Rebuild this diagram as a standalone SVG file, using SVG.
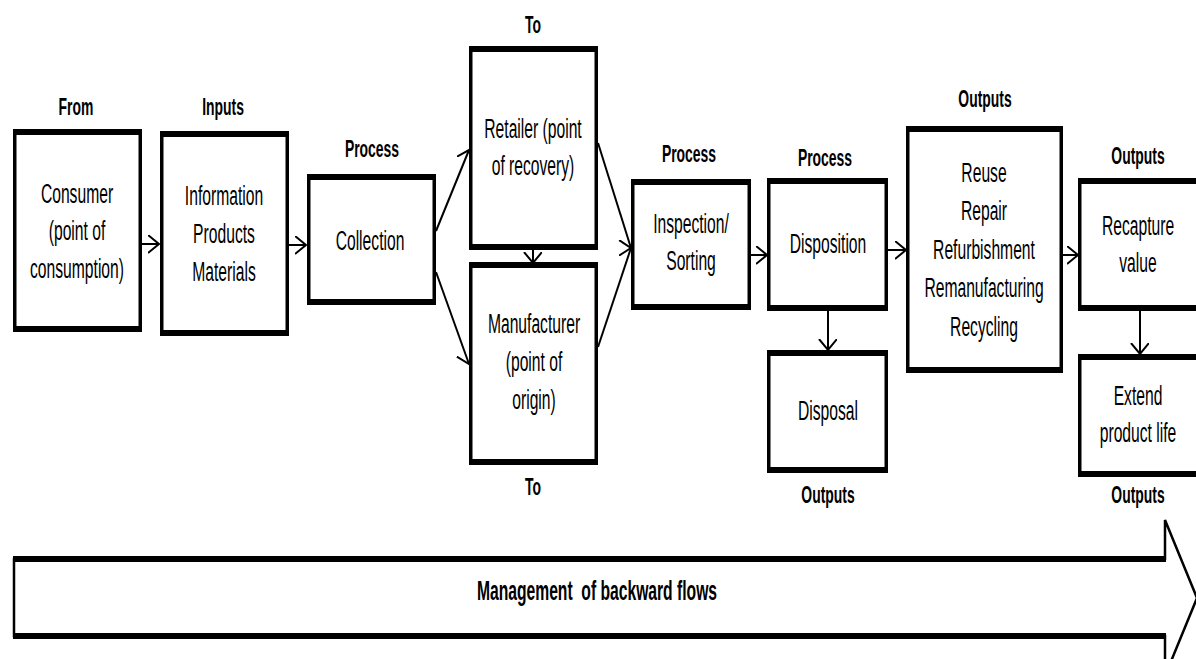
<svg xmlns="http://www.w3.org/2000/svg" width="1196" height="659" viewBox="0 0 1196 659">
<style>
.box{fill:#fff;stroke:#000;stroke-width:3.5}
.edge{fill:none;stroke:#000;stroke-width:6}
.t{font-family:"Liberation Sans",Arial,sans-serif;font-size:27px;text-anchor:middle;fill:#000}
.lb{font-family:"Liberation Sans",Arial,sans-serif;font-size:24px;font-weight:bold;text-anchor:middle;fill:#000}
.c{fill:none;stroke:#000;stroke-width:2}
</style>
<defs>
<marker id="ah" markerUnits="userSpaceOnUse" markerWidth="14" markerHeight="20" refX="11" refY="9" orient="auto">
<path d="M0,0 L11,9 L0,18" fill="none" stroke="#000" stroke-width="2"/>
</marker>
</defs>
<rect width="1196" height="659" fill="#fff"/>

<g id="connectors">
<path class="c" d="M142 244 H159" marker-end="url(#ah)"/>
<path class="c" d="M289 245 H306" marker-end="url(#ah)"/>
<path class="c" d="M436 231 L469 150" marker-end="url(#ah)"/>
<path class="c" d="M436 272 L469 364" marker-end="url(#ah)"/>
<path class="c" d="M598 143 L631 248" marker-end="url(#ah)"/>
<path class="c" d="M598 347 L631 248" marker-end="url(#ah)"/>
<path class="c" d="M533 250 V263" marker-end="url(#ah)"/>
<path class="c" d="M751 255 H767" marker-end="url(#ah)"/>
<path class="c" d="M888 250 H906" marker-end="url(#ah)"/>
<path class="c" d="M828 311 V350" marker-end="url(#ah)"/>
<path class="c" d="M1063 255 H1078" marker-end="url(#ah)"/>
<path class="c" d="M1140 311 V354" marker-end="url(#ah)"/>
</g>

<g id="consumer">
<rect class="box" x="14.75" y="132" width="125.5" height="197"/>
<path class="edge" d="M13 132 H142 M13 329 H142"/>
<text class="lb" transform="translate(76,115) scale(0.58,1)">From</text>
<text class="t" transform="translate(77,203) scale(0.58,1)"><tspan x="0" y="0">Consumer</tspan><tspan x="0" y="37.5">(point of</tspan><tspan x="0" y="75">consumption)</tspan></text>
</g>

<g id="inputs">
<rect class="box" x="161.75" y="134" width="125.5" height="199"/>
<path class="edge" d="M160 134 H289 M160 333 H289"/>
<text class="lb" transform="translate(223,115) scale(0.58,1)">Inputs</text>
<text class="t" transform="translate(224,205) scale(0.58,1)"><tspan x="0" y="0">Information</tspan><tspan x="0" y="38">Products</tspan><tspan x="0" y="76">Materials</tspan></text>
</g>

<g id="collection">
<rect class="box" x="308.75" y="177" width="125.5" height="125"/>
<path class="edge" d="M307 177 H436 M307 302 H436"/>
<text class="lb" transform="translate(372,157) scale(0.58,1)">Process</text>
<text class="t" transform="translate(370,250) scale(0.58,1)">Collection</text>
</g>

<g id="retailer">
<rect class="box" x="470.75" y="49" width="125.5" height="198"/>
<path class="edge" d="M469 49 H598 M469 247 H598"/>
<text class="lb" transform="translate(533,33) scale(0.58,1)">To</text>
<text class="t" transform="translate(533,138) scale(0.58,1)"><tspan x="0" y="0">Retailer (point</tspan><tspan x="0" y="37">of recovery)</tspan></text>
</g>

<g id="manufacturer">
<rect class="box" x="470.75" y="265" width="125.5" height="197"/>
<path class="edge" d="M469 265 H598 M469 462 H598"/>
<text class="t" transform="translate(534,333) scale(0.58,1)"><tspan x="0" y="0">Manufacturer</tspan><tspan x="0" y="38">(point of</tspan><tspan x="0" y="76">origin)</tspan></text>
<text class="lb" transform="translate(533,495) scale(0.58,1)">To</text>
</g>

<g id="inspection">
<rect class="box" x="632.75" y="182" width="116.5" height="125"/>
<path class="edge" d="M631 182 H751 M631 307 H751"/>
<text class="lb" transform="translate(689,162) scale(0.58,1)">Process</text>
<text class="t" transform="translate(691,233) scale(0.58,1)"><tspan x="0" y="0">Inspection/</tspan><tspan x="0" y="37">Sorting</tspan></text>
</g>

<g id="disposition">
<rect class="box" x="768.75" y="181" width="117.5" height="127"/>
<path class="edge" d="M767 181 H888 M767 308 H888"/>
<text class="lb" transform="translate(825,166) scale(0.58,1)">Process</text>
<text class="t" transform="translate(828,253) scale(0.58,1)">Disposition</text>
</g>

<g id="disposal">
<rect class="box" x="768.75" y="353" width="117.5" height="117"/>
<path class="edge" d="M767 353 H888 M767 470 H888"/>
<text class="t" transform="translate(828,420) scale(0.58,1)">Disposal</text>
<text class="lb" transform="translate(828,503) scale(0.58,1)">Outputs</text>
</g>

<g id="recovery-options">
<rect class="box" x="907.75" y="129" width="153.5" height="241"/>
<path class="edge" d="M906 129 H1063 M906 370 H1063"/>
<text class="lb" transform="translate(985,107) scale(0.58,1)">Outputs</text>
<text class="t" transform="translate(984,182) scale(0.58,1)"><tspan x="0" y="0">Reuse</tspan><tspan x="0" y="38.5">Repair</tspan><tspan x="0" y="77">Refurbishment</tspan><tspan x="0" y="115.5">Remanufacturing</tspan><tspan x="0" y="154">Recycling</tspan></text>
</g>

<g id="recapture">
<rect class="box" x="1079.75" y="181" width="118.5" height="127"/>
<path class="edge" d="M1078 181 H1200 M1078 308 H1200"/>
<text class="lb" transform="translate(1138,164) scale(0.58,1)">Outputs</text>
<text class="t" transform="translate(1138,235) scale(0.58,1)"><tspan x="0" y="0">Recapture</tspan><tspan x="0" y="37">value</tspan></text>
</g>

<g id="extend">
<rect class="box" x="1079.75" y="357" width="118.5" height="117"/>
<path class="edge" d="M1078 357 H1200 M1078 474 H1200"/>
<text class="t" transform="translate(1138,405) scale(0.58,1)"><tspan x="0" y="0">Extend</tspan><tspan x="0" y="37">product life</tspan></text>
<text class="lb" transform="translate(1138,503) scale(0.58,1)">Outputs</text>
</g>

<g id="backward-flows">
<path d="M14 559 H1165 V520 L1197 598 L1165 676 V636 H14 Z" fill="#fff" stroke="#000" stroke-width="2.5"/>
<path class="edge" d="M13 559 H1166 M13 636 H1166" stroke-width="5"/>
<text class="lb" style="font-size:27px" transform="translate(597,600) scale(0.58,1)">Management&#160; of backward flows</text>
</g>
</svg>
